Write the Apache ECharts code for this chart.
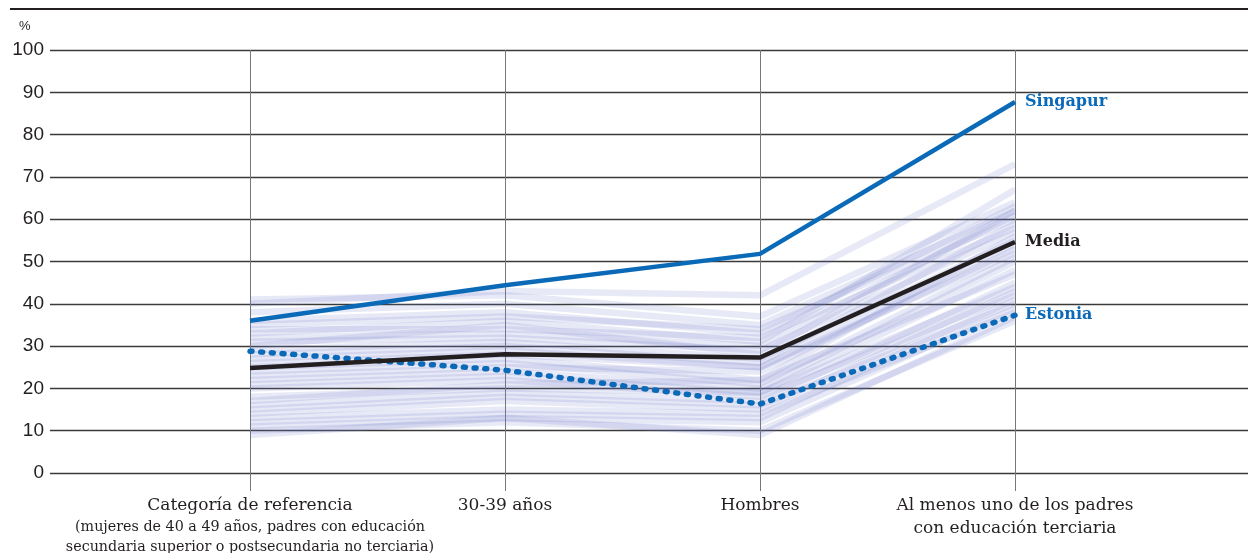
<!DOCTYPE html>
<html>
<head>
<meta charset="utf-8">
<script src="https://cdn.jsdelivr.net/npm/echarts@6/dist/echarts.min.js"></script>
<style>
html,body{margin:0;padding:0;background:#fff;}
#c{width:1248px;height:553px;}
</style>
</head>
<body>
<div id="c"></div>
<script>
var categories = ['Categoría de referencia', '30-39 años', 'Hombres', 'Al menos uno de los padres\ncon educación terciaria'];
var yTicks = [0, 10, 20, 30, 40, 50, 60, 70, 80, 90, 100];

var singapur = [36, 44.4, 51.8, 87.7];
var media = [24.8, 28.1, 27.3, 54.6];
var estonia = [28.8, 24.3, 16.3, 37.3];

var countries = [
  [41, 42, 37, 64],
  [40, 43, 42, 73],
  [38, 40, 35, 62],
  [36, 38, 33, 63],
  [35, 37, 34, 60],
  [34, 34, 32, 58],
  [33, 36, 31, 67],
  [32, 33, 30, 61],
  [31, 32, 29, 57],
  [30, 35, 28, 62],
  [29, 31, 27, 55],
  [28, 30, 26, 59],
  [27, 29, 25, 54],
  [26, 28, 25, 52],
  [25, 27, 22, 56],
  [24, 26, 21, 51],
  [23, 25, 24, 53],
  [22, 24, 20, 50],
  [21, 23, 19, 44],
  [20, 22, 18, 42],
  [18, 20, 19, 48],
  [16, 19, 17, 45],
  [15, 18, 16, 40],
  [14, 17, 15, 43],
  [13, 15, 14, 38],
  [12, 14, 13, 41],
  [11, 13, 12, 39],
  [10, 12, 10, 36],
  [9, 13, 9, 37],
  [17, 21, 22, 47]
];

var serif = '"DejaVu Serif", "Liberation Serif", serif';
var sans = '"Liberation Sans", "Noto Sans", sans-serif';

var series = [];
countries.forEach(function (d, i) {
  series.push({
    type: 'line', xAxisIndex: 1, yAxisIndex: 1, data: d,
    symbol: 'none', silent: true, z: 2,
    lineStyle: { color: 'rgba(105,120,200,0.16)', width: 6.5 }
  });
});
series.push({
  name: 'Estonia', type: 'line', xAxisIndex: 1, yAxisIndex: 1, data: estonia,
  symbol: 'none', z: 5,
  lineStyle: { color: '#0a6ab8', width: 5.5, type: [2, 8.7], cap: 'round' },
  endLabel: { show: true, formatter: '{a}', distance: 10, color: '#0a6ab8',
    fontFamily: serif, fontWeight: 'bold', fontSize: 16 }
});
series.push({
  name: 'Media', type: 'line', xAxisIndex: 1, yAxisIndex: 1, data: media,
  symbol: 'none', z: 6,
  lineStyle: { color: '#231f20', width: 4.5 },
  endLabel: { show: true, formatter: '{a}', distance: 10, color: '#231f20',
    fontFamily: serif, fontWeight: 'bold', fontSize: 16 }
});
series.push({
  name: 'Singapur', type: 'line', xAxisIndex: 1, yAxisIndex: 1, data: singapur,
  symbol: 'none', z: 6,
  lineStyle: { color: '#0a6ab8', width: 4.5 },
  endLabel: { show: true, formatter: '{a}', distance: 10, color: '#0a6ab8',
    fontFamily: serif, fontWeight: 'bold', fontSize: 16 }
});

var option = {
  animation: false,
  backgroundColor: '#fff',
  grid: [
    { left: 50, right: 0, top: 50, bottom: 80, outerBoundsMode: 'none', containLabel: false },
    { left: 250, right: 233, top: 50, bottom: 80, outerBoundsMode: 'none', containLabel: false }
  ],
  xAxis: [
    { gridIndex: 0, type: 'value', min: 0, max: 1, show: false },
    { gridIndex: 1, type: 'category', data: categories, boundaryGap: false,
      axisLine: { show: false },
      axisTick: { show: true, length: 18, alignWithLabel: true, interval: 0, lineStyle: { color: '#777', width: 1 } },
      splitLine: { show: true, interval: 0, lineStyle: { color: '#777', width: 1 } },
      axisLabel: {
        interval: 0, margin: 21, color: '#231f20', fontFamily: serif, fontSize: 17, lineHeight: 23,
        formatter: function (v, i) {
          if (i === 0) {
            return '{a|' + v + '}\n{b|(mujeres de 40 a 49 años, padres con educación}\n{b|secundaria superior o postsecundaria no terciaria)}';
          }
          return v;
        },
        rich: {
          a: { fontFamily: serif, fontSize: 17, lineHeight: 23, color: '#231f20' },
          b: { fontFamily: serif, fontSize: 14.3, lineHeight: 20, color: '#231f20' }
        }
      }
    }
  ],
  yAxis: [
    { gridIndex: 0, type: 'value', min: 0, max: 100, interval: 10,
      axisLine: { show: false }, axisTick: { show: false },
      axisLabel: { color: '#231f20', fontFamily: sans, fontSize: 19, margin: 6 },
      splitLine: { show: true, lineStyle: { color: '#3a3a3a', width: 1.3 } }
    },
    { gridIndex: 1, type: 'value', min: 0, max: 100, interval: 10, show: false }
  ],
  graphic: [
    { type: 'line', shape: { x1: 10, y1: 9, x2: 1248, y2: 9 }, style: { stroke: '#231f20', lineWidth: 2 } },
    { type: 'text', left: 19, top: 20, style: { text: '%', fill: '#231f20', font: '13px ' + sans } }
  ],
  series: series
};

var chart = echarts.init(document.getElementById('c'), null, { renderer: 'canvas' });
chart.setOption(option);
</script>
</body>
</html>
